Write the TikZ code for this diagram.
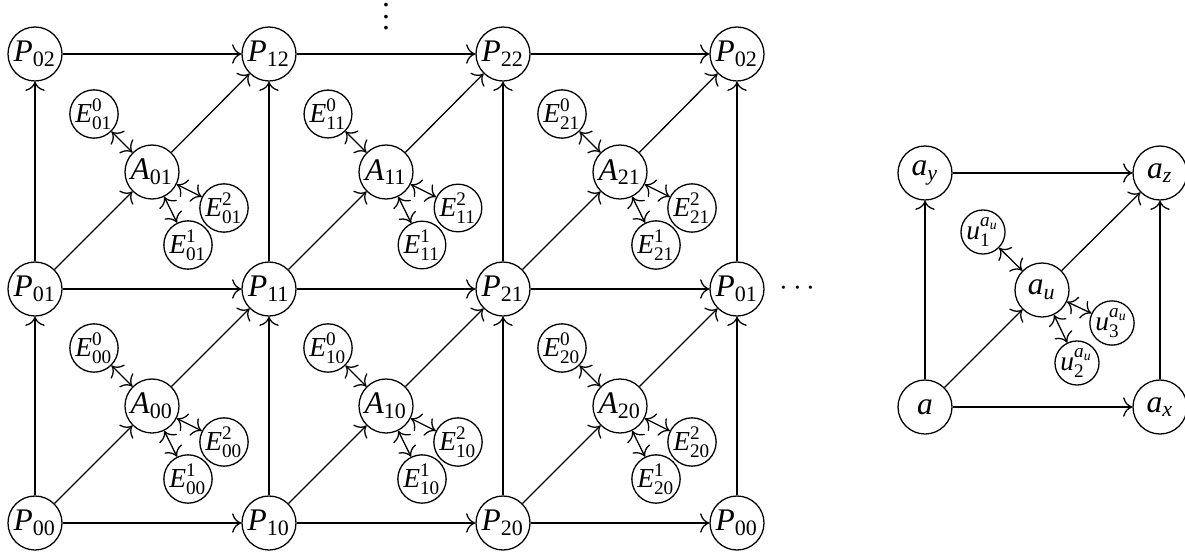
\documentclass[tikz,border=0pt]{standalone}
\usepackage{amsmath}
\usepackage{fontspec}
\setmainfont{Liberation Serif}
\usetikzlibrary{arrows.meta}
\begin{document}
\begin{tikzpicture}[x=0.35pt,y=-0.35pt,
  font=\fontsize{11}{13}\selectfont,
  big/.style={circle,draw,line width=0.45pt,inner sep=0pt,minimum size=18.9pt},
  small/.style={circle,draw,line width=0.45pt,inner sep=0pt,minimum size=14.3pt,font=\fontsize{9.6}{11}\selectfont},
  arr/.style={-{To[scale=1.25]},line width=0.45pt},
  barr/.style={{To[scale=1.25]}-{To[scale=1.25]},line width=0.45pt}]
\useasboundingbox (0,0) rectangle (1185,554);
% grid nodes
\foreach \i/\x in {0/35,1/269,2/503}{
  \foreach \j/\y in {0/523,1/289,2/54}{
    \node[big] (P\i\j) at (\x,\y) {$\text{\itshape P}_{\text{\i\j}}$};
  }
}
\foreach \j/\y in {0/523,1/289,2/54}{
  \node[big] (Q\j) at (737,\y) {$\text{\itshape P}_{\text{0\j}}$};
}
% A and E nodes
\foreach \i in {0,1,2}{
  \foreach \j in {0,1}{
    \path (P\i\j) ++(117,-117) node[big] (A\i\j) {$\text{\itshape A}_{\text{\i\j}}$};
    \path (A\i\j) ++(-58,-58) node[small] (E\i\j a) {$\text{\itshape E}^{\text{0}}_{\text{\i\j}}$};
    \path (A\i\j) ++(36,73) node[small] (E\i\j b) {$\text{\itshape E}^{\text{1}}_{\text{\i\j}}$};
    \path (A\i\j) ++(72,36) node[small] (E\i\j c) {$\text{\itshape E}^{\text{2}}_{\text{\i\j}}$};
    \draw[barr] (A\i\j) -- (E\i\j a);
    \draw[barr] (A\i\j) -- (E\i\j b);
    \draw[barr] (A\i\j) -- (E\i\j c);
    \draw[arr] (P\i\j) -- (A\i\j);
  }
}
% diagonals from A to upper-right P
\foreach \j/\nj in {0/1,1/2}{
  \draw[arr] (A0\j) -- (P1\nj);
  \draw[arr] (A1\j) -- (P2\nj);
  \draw[arr] (A2\j) -- (Q\nj);
}
% horizontal arrows
\foreach \j in {0,1,2}{
  \draw[arr] (P0\j) -- (P1\j);
  \draw[arr] (P1\j) -- (P2\j);
  \draw[arr] (P2\j) -- (Q\j);
}
% vertical arrows
\foreach \c in {P0,P1,P2,Q}{
  \draw[arr] (\c0) -- (\c1);
  \draw[arr] (\c1) -- (\c2);
}
% dots
\node[inner sep=0pt,anchor=north] (vd) at (386,-14) {$\vdots$};
\node[inner sep=0pt] (hd) at (800,289) {$\cdots$};
% right diagram
\node[big] (a) at (925,407) {$\text{\itshape a}$};
\node[big] (ax) at (1160,407) {$\text{\itshape a}_{\text{\itshape x}}$};
\node[big] (ay) at (925,173) {$\text{\itshape a}_{\text{\itshape y}}$};
\node[big] (az) at (1160,173) {$\text{\itshape a}_{\text{\itshape z}}$};
\node[big] (au) at (1042,290) {$\text{\itshape a}_{\text{\itshape u}}$};
\path (au) ++(-59,-58) node[small] (u1) {$\text{\itshape u}^{\text{\itshape a}_{\text{\itshape u}}}_{\text{1}}$};
\path (au) ++(35,73) node[small] (u2) {$\text{\itshape u}^{\text{\itshape a}_{\text{\itshape u}}}_{\text{2}}$};
\path (au) ++(70,33) node[small] (u3) {$\text{\itshape u}^{\text{\itshape a}_{\text{\itshape u}}}_{\text{3}}$};
\draw[arr] (a) -- (ax);
\draw[arr] (a) -- (ay);
\draw[arr] (ay) -- (az);
\draw[arr] (ax) -- (az);
\draw[arr] (a) -- (au);
\draw[arr] (au) -- (az);
\draw[barr] (au) -- (u1);
\draw[barr] (au) -- (u2);
\draw[barr] (au) -- (u3);
\end{tikzpicture}
\end{document}
